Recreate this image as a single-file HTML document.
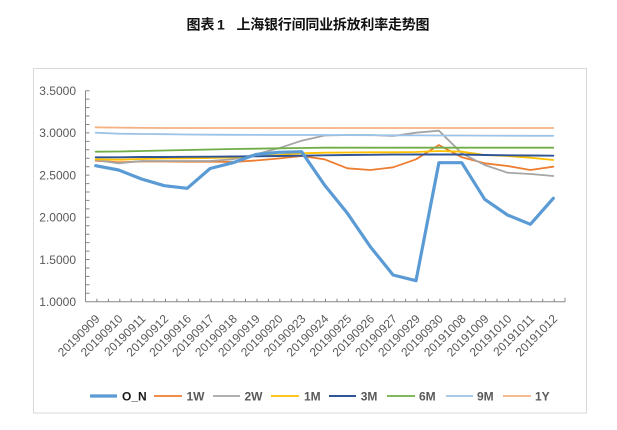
<!DOCTYPE html>
<html><head><meta charset="utf-8"><style>
html,body{margin:0;padding:0;background:#fff;}
svg{display:block;}
text{font-family:"Liberation Sans","Noto Sans CJK SC",sans-serif;}
</style></head><body>
<svg width="617" height="430" viewBox="0 0 617 430" xmlns="http://www.w3.org/2000/svg">
<rect x="0" y="0" width="617" height="430" fill="#fff"/>
<g font-weight="bold" font-size="14" fill="#111">
<text x="186.5" y="29.5">图表</text>
<text x="217" y="29.5">1</text>
<text x="236.5" y="29.5" textLength="193" lengthAdjust="spacing">上海银行间同业拆放利率走势图</text>
</g>
<rect x="33.5" y="68.5" width="553" height="344.5" fill="#fff" stroke="#D9D9D9" stroke-width="1"/>
<!-- y axis -->
<g stroke="#868686" stroke-width="1">
<line x1="85.5" y1="90.7" x2="85.5" y2="301.7"/>
<line x1="85.5" y1="301.7" x2="565" y2="301.7"/>
<path d="M85.5 90.7h4M85.5 99.1h4M85.5 107.6h4M85.5 116h4M85.5 124.5h4M85.5 132.9h4M85.5 141.4h4M85.5 149.8h4M85.5 158.2h4M85.5 166.7h4M85.5 175.1h4M85.5 183.6h4M85.5 192h4M85.5 200.4h4M85.5 208.9h4M85.5 217.3h4M85.5 225.8h4M85.5 234.2h4M85.5 242.6h4M85.5 251.1h4M85.5 259.5h4M85.5 268h4M85.5 276.4h4M85.5 284.8h4M85.5 293.3h4"/>
<path d="M96.9 301.7v-3M108.4 301.7v-3M119.8 301.7v-3M131.2 301.7v-3M142.7 301.7v-3M154.1 301.7v-3M165.5 301.7v-3M176.9 301.7v-3M188.4 301.7v-3M199.8 301.7v-3M211.2 301.7v-3M222.7 301.7v-3M234.1 301.7v-3M245.5 301.7v-3M257 301.7v-3M268.4 301.7v-3M279.8 301.7v-3M291.3 301.7v-3M302.7 301.7v-3M314.1 301.7v-3M325.5 301.7v-3M337 301.7v-3M348.4 301.7v-3M359.8 301.7v-3M371.3 301.7v-3M382.7 301.7v-3M394.1 301.7v-3M405.6 301.7v-3M417 301.7v-3M428.4 301.7v-3M439.9 301.7v-3M451.3 301.7v-3M462.7 301.7v-3M474.1 301.7v-3M485.6 301.7v-3M497 301.7v-3M508.4 301.7v-3M519.9 301.7v-3M531.3 301.7v-3M542.7 301.7v-3M554.2 301.7v-3M565 301.7v-4"/>
</g>
<g font-size="12" fill="#595959" text-anchor="end">
<text x="76" y="95">3.5000</text>
<text x="76" y="137.2">3.0000</text>
<text x="76" y="179.4">2.5000</text>
<text x="76" y="221.6">2.0000</text>
<text x="76" y="263.8">1.5000</text>
<text x="76" y="306">1.0000</text>
</g>
<g font-size="12" fill="#595959" text-anchor="end">
<text transform="translate(100.5,319.5) rotate(-45)">20190909</text>
<text transform="translate(123.4,319.5) rotate(-45)">20190910</text>
<text transform="translate(146.3,319.5) rotate(-45)">20190911</text>
<text transform="translate(169.1,319.5) rotate(-45)">20190912</text>
<text transform="translate(192,319.5) rotate(-45)">20190916</text>
<text transform="translate(214.9,319.5) rotate(-45)">20190917</text>
<text transform="translate(237.8,319.5) rotate(-45)">20190918</text>
<text transform="translate(260.7,319.5) rotate(-45)">20190919</text>
<text transform="translate(283.5,319.5) rotate(-45)">20190920</text>
<text transform="translate(306.4,319.5) rotate(-45)">20190923</text>
<text transform="translate(329.3,319.5) rotate(-45)">20190924</text>
<text transform="translate(352.2,319.5) rotate(-45)">20190925</text>
<text transform="translate(375.1,319.5) rotate(-45)">20190926</text>
<text transform="translate(397.9,319.5) rotate(-45)">20190927</text>
<text transform="translate(420.8,319.5) rotate(-45)">20190929</text>
<text transform="translate(443.7,319.5) rotate(-45)">20190930</text>
<text transform="translate(466.6,319.5) rotate(-45)">20191008</text>
<text transform="translate(489.5,319.5) rotate(-45)">20191009</text>
<text transform="translate(512.3,319.5) rotate(-45)">20191010</text>
<text transform="translate(535.2,319.5) rotate(-45)">20191011</text>
<text transform="translate(558.1,319.5) rotate(-45)">20191012</text>
</g>
<g fill="none" stroke-linejoin="round" stroke-linecap="round">
<!-- 1W -->
<polyline stroke="#ED7D31" stroke-width="1.8" points="95.7,160.7 118.6,162.3 141.5,161.5 164.3,161.5 187.2,161.7 210.1,161.7 233,162 255.9,160.5 278.7,158.5 301.6,156 324.5,159.3 347.4,168.3 370.3,170 393.1,167.3 416,159.3 438.9,145 461.8,157.3 484.7,163.3 507.5,166 530.4,170 553.3,166.7"/>
<!-- 2W -->
<polyline stroke="#A5A5A5" stroke-width="1.8" points="95.7,160 118.6,163.3 141.5,161 164.3,161 187.2,161 210.1,161 233,159.3 255.9,154.3 278.7,148.3 301.6,140.7 324.5,135.5 347.4,135 370.3,135 393.1,136 416,132.7 438.9,130.7 461.8,153.3 484.7,165 507.5,172.7 530.4,174 553.3,176"/>
<!-- 1M -->
<polyline stroke="#FFC000" stroke-width="1.8" points="95.7,159.3 118.6,159.7 141.5,159 164.3,158.5 187.2,158.3 210.1,158 233,157.5 255.9,156 278.7,155 301.6,153.3 324.5,152.7 347.4,152.5 370.3,152.3 393.1,152.3 416,152 438.9,151 461.8,151.7 484.7,155 507.5,156 530.4,157.7 553.3,160"/>
<!-- 3M -->
<polyline stroke="#2F5597" stroke-width="1.9" points="95.7,157.3 118.6,157.3 141.5,157 164.3,157 187.2,156.8 210.1,156.7 233,156.5 255.9,156.3 278.7,156 301.6,155.7 324.5,155.3 347.4,155 370.3,154.8 393.1,154.6 416,154.5 438.9,154.5 461.8,154.5 484.7,155 507.5,155.3 530.4,155.5 553.3,155.7"/>
<!-- 6M -->
<polyline stroke="#70AD47" stroke-width="1.8" points="95.7,151.7 118.6,151.5 141.5,151 164.3,150.5 187.2,150 210.1,149.5 233,149 255.9,148.7 278.7,148.3 301.6,148 324.5,147.7 347.4,147.7 370.3,147.7 393.1,147.7 416,147.7 438.9,147.7 461.8,147.7 484.7,147.7 507.5,147.7 530.4,147.7 553.3,147.7"/>
<!-- 9M -->
<polyline stroke="#9DC3E6" stroke-width="1.8" points="95.7,132.7 118.6,133.7 141.5,134 164.3,134.2 187.2,134.5 210.1,134.7 233,134.8 255.9,134.9 278.7,135 301.6,135 324.5,135 347.4,135.1 370.3,135.2 393.1,135.3 416,135.4 438.9,135.5 461.8,135.5 484.7,135.6 507.5,135.7 530.4,135.8 553.3,135.8"/>
<!-- 1Y -->
<polyline stroke="#F4B183" stroke-width="1.8" points="95.7,127.3 118.6,127.6 141.5,127.9 164.3,128 187.2,128 210.1,128 233,128 255.9,128 278.7,128 301.6,128 324.5,128 347.4,128 370.3,128 393.1,128 416,128 438.9,128 461.8,128 484.7,128 507.5,128 530.4,128 553.3,128"/>
<!-- O_N -->
<polyline stroke="#5B9BD5" stroke-width="3.2" points="95.7,165.7 118.6,170 141.5,179 164.3,185.7 187.2,188.3 210.1,168.5 233,162.7 255.9,154.5 278.7,152.3 301.6,151.7 324.5,185 347.4,213.3 370.3,246.7 393.1,275 416,280.7 438.9,162.7 461.8,162.7 484.7,199.3 507.5,215 530.4,224.3 553.3,198.3"/>
</g>
<!-- legend -->
<g stroke-linecap="butt">
<line x1="90" y1="396" x2="117" y2="396" stroke="#5B9BD5" stroke-width="3.2"/>
<line x1="154" y1="396" x2="182" y2="396" stroke="#ED7D31" stroke-width="1.8"/>
<line x1="213" y1="396" x2="240" y2="396" stroke="#A5A5A5" stroke-width="1.8"/>
<line x1="271" y1="396" x2="299" y2="396" stroke="#FFC000" stroke-width="1.8"/>
<line x1="329" y1="396" x2="356" y2="396" stroke="#2F5597" stroke-width="1.9"/>
<line x1="387" y1="396" x2="415" y2="396" stroke="#70AD47" stroke-width="1.8"/>
<line x1="446" y1="396" x2="473" y2="396" stroke="#9DC3E6" stroke-width="1.8"/>
<line x1="503" y1="396" x2="531" y2="396" stroke="#F4B183" stroke-width="1.8"/>
</g>
<g font-size="12" font-weight="bold" fill="#595959">
<text x="122" y="400.3" fill="#1a1a1a">O_N</text>
<text x="186.5" y="400.3">1W</text>
<text x="244.5" y="400.3">2W</text>
<text x="304" y="400.3">1M</text>
<text x="360.7" y="400.3">3M</text>
<text x="419" y="400.3">6M</text>
<text x="477" y="400.3">9M</text>
<text x="535" y="400.3">1Y</text>
</g>
</svg>
</body></html>
